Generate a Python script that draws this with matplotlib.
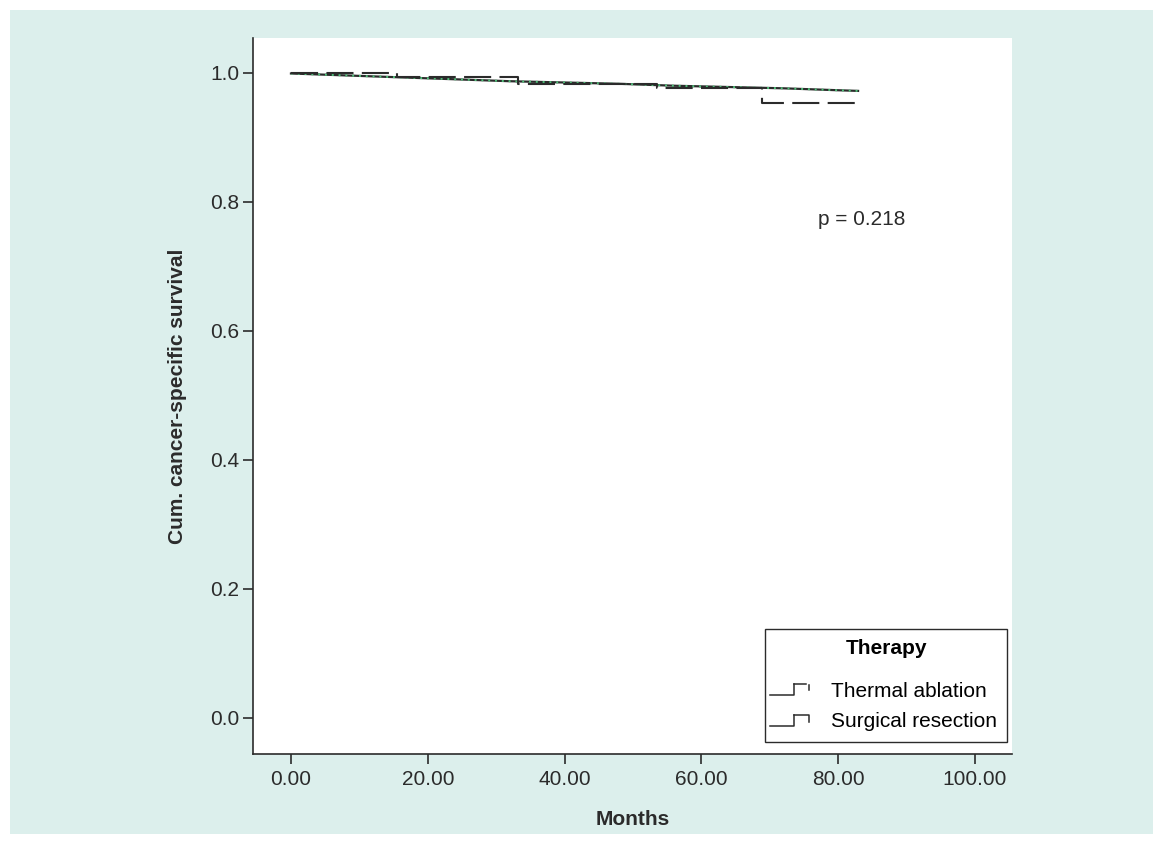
import numpy as np
import matplotlib.pyplot as plt
from matplotlib.lines import Line2D
from matplotlib.patches import Rectangle
from matplotlib.legend_handler import HandlerBase

plt.rcParams['font.family'] = ['Liberation Sans', 'DejaVu Sans']

# Thermal ablation (dashed step curve)
ta_months = [0, 15.5, 33.2, 53.5, 68.9, 82.9]
ta_surv = [1.0, 0.994, 0.982, 0.976, 0.954, 0.954]

# Surgical resection (solid curve, many tiny steps -> looks like a line)
sr_months = [0, 8, 16, 24, 32, 40, 48, 56, 64, 72, 80, 82.9]
sr_surv = [0.999, 0.996, 0.993, 0.99, 0.987, 0.985, 0.983, 0.98, 0.978, 0.976, 0.973, 0.972]

xticks = [0, 20, 40, 60, 80, 100]
yticks = [0.0, 0.2, 0.4, 0.6, 0.8, 1.0]
p_text = 'p = 0.218'

bg = '#dcefec'
ink = '#2b2b2b'
fs = 15


class StepHandler(HandlerBase):
    def __init__(self, dashed):
        super().__init__()
        self.dashed = dashed

    def create_artists(self, legend, orig_handle, xd, yd, w, h, fontsize, trans):
        xd = xd - 4
        x0 = xd + w * 0.15
        lo = yd + h * 0.05
        hi = yd + h * 0.75
        arts = []
        arts.append(Line2D([x0 - w * 0.15, x0 + w * 0.45, x0 + w * 0.45], [lo, lo, hi],
                           color=ink, lw=1.1, transform=trans))
        if self.dashed:
            arts.append(Line2D([x0 + w * 0.45, x0 + w * 0.75], [hi, hi],
                               color=ink, lw=1.1, transform=trans))
            arts.append(Line2D([xd + w, xd + w], [hi - h * 0.05, hi - h * 0.4],
                               color=ink, lw=1.1, transform=trans))
        else:
            arts.append(Line2D([x0 + w * 0.45, xd + w, xd + w], [hi, hi, hi - h * 0.45],
                               color=ink, lw=1.1, transform=trans))
        return arts


fig = plt.figure(figsize=(11.63, 8.44), dpi=100)
fig.patch.set_facecolor('white')
fig.patches.append(Rectangle((10 / 1163, 10 / 844), 1143 / 1163, 824 / 844,
                             transform=fig.transFigure, facecolor=bg, edgecolor='none', zorder=-10))

ax = fig.add_axes([253 / 1163, 90 / 844, 759 / 1163, 716 / 844])
ax.set_facecolor('white')

ax.plot(sr_months, sr_surv, color=ink, lw=1.6)
ax.plot(sr_months, sr_surv, color='#4fc27a', lw=1.4, linestyle=(0, (1, 2.5)))
ax.step(ta_months, ta_surv, where='post', color=ink, lw=1.5, dashes=[13, 4])

ax.set_xlim(-5.55, 105.4)
ax.set_ylim(-0.056, 1.054)
ax.set_xticks(xticks)
ax.set_xticklabels(['%.2f' % t for t in xticks])
ax.set_yticks(yticks)
ax.set_yticklabels(['%.1f' % t for t in yticks])
for s in ['top', 'right']:
    ax.spines[s].set_visible(False)
for s in ['left', 'bottom']:
    ax.spines[s].set_color(ink)
    ax.spines[s].set_linewidth(1.2)
ax.tick_params(direction='out', length=7.2, width=1.2, color=ink, labelsize=fs,
               labelcolor=ink)
ax.tick_params(axis='y', pad=2.5)
ax.tick_params(axis='x', pad=4.5)

ax.set_xlabel('Months', fontsize=fs, fontweight='bold', color=ink, labelpad=15)
ax.set_ylabel('Cum. cancer-specific survival', fontsize=fs, fontweight='bold',
              color=ink, labelpad=17)

ax.text(77, 0.772, p_text, fontsize=fs, color=ink, va='center')

h_ta = Line2D([], [])
h_sr = Line2D([], [])
leg = ax.legend([h_ta, h_sr], ['Thermal ablation', 'Surgical resection'],
                handler_map={h_ta: StepHandler(True), h_sr: StepHandler(False)},
                title='Therapy', loc='lower right', bbox_to_anchor=(0.9935, 0.017),
                fontsize=fs, title_fontproperties={'weight': 'bold', 'size': fs},
                frameon=True, fancybox=False, edgecolor=ink, framealpha=1,
                handlelength=1.9, handleheight=0.8, handletextpad=0.75,
                borderpad=0.5, labelspacing=0.55, borderaxespad=0)
leg._legend_box.sep = 17
leg.get_frame().set_linewidth(1.0)

fig.savefig('out.png', dpi=100, facecolor='white')
